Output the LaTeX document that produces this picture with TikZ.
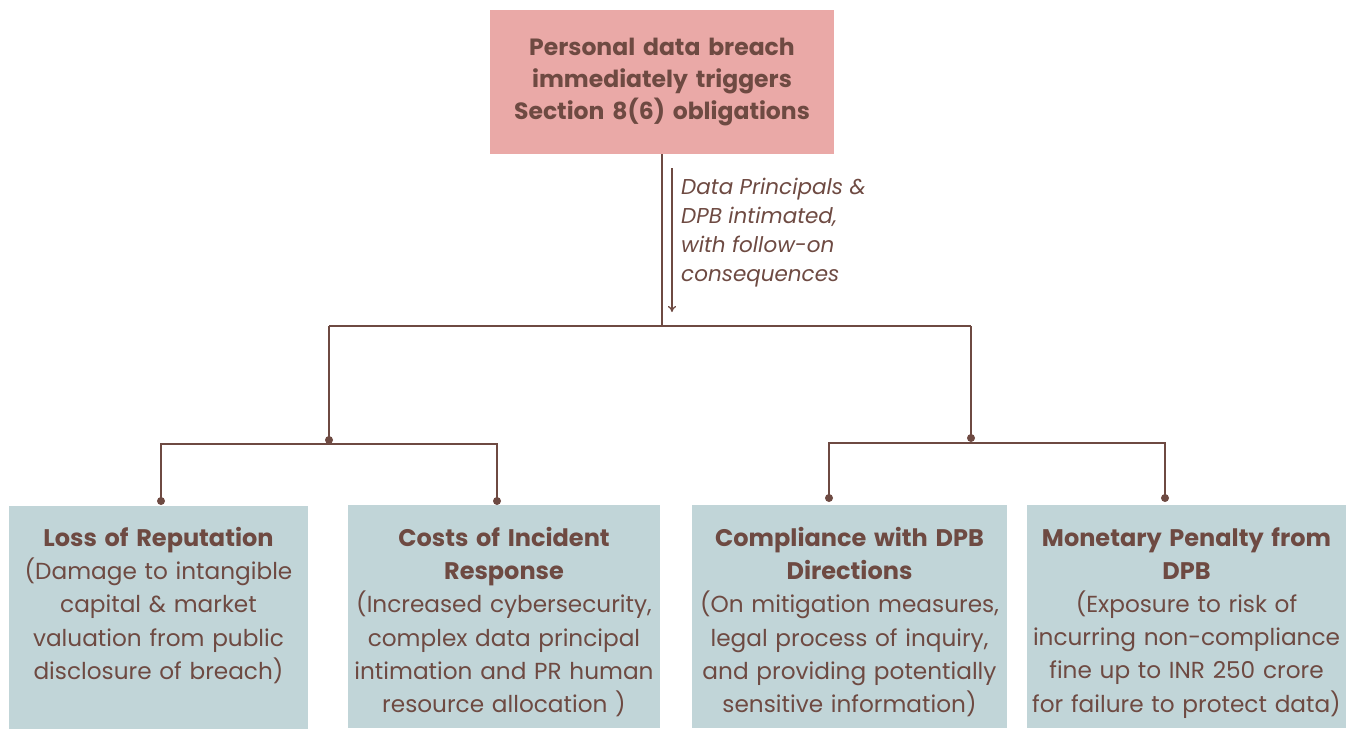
\documentclass[tikz,border=0pt]{standalone}
\usepackage{fontspec}
\setmainfont{Poppins}
\usetikzlibrary{arrows.meta, positioning}

\definecolor{breachpink}{HTML}{EAA9A7}
\definecolor{effectblue}{HTML}{C1D5D8}
\definecolor{inkbrown}{HTML}{6E4A42}

\newcommand{\headline}[1]{{\bfseries\fontsize{24}{33.2}\selectfont #1}}

\begin{document}
\begin{tikzpicture}[x=1pt, y=-1pt,
    trigger/.style={fill=breachpink, minimum width=344pt, minimum height=144pt, text width=336pt, align=center, text=inkbrown, font=\bfseries\fontsize{23.5}{32}\selectfont},
    effect/.style={fill=effectblue, minimum height=223pt, inner sep=0pt},
    effecttext/.style={text width=316pt, align=center, anchor=north, inner sep=0pt, text=inkbrown, font=\fontsize{23.2}{33.2}\selectfont},
    note/.style={align=left, anchor=west, inner sep=0pt, text=inkbrown, font=\itshape\fontsize{21.5}{29}\selectfont},
    link/.style={draw=inkbrown, line width=2pt},
    joint/.style={circle, fill=inkbrown, inner sep=0pt, minimum size=8pt}]
        \useasboundingbox (0,0) rectangle (1354,729);

        \node[trigger] (breach) at (662,82) {Personal data breach\\ immediately triggers\\ Section 8(6) obligations};

        \node[effect, minimum width=299pt] (loss)       at (158.5,617.5) {};
        \node[effect, minimum width=312pt] (costs)      at (504,616.5) {};
        \node[effect, minimum width=315pt] (compliance) at (849.5,616.5) {};
        \node[effect, minimum width=319pt] (penalty)    at (1186.5,616.5) {};

        \node[effecttext] (losstxt) at (158.5,527) {\headline{Loss of Reputation}\\ (Damage to intangible\\ capital \& market\\ valuation from public\\ disclosure of breach)};
        \node[effecttext] (coststxt) at (504,527) {\headline{Costs of Incident\\ Response}\\ (Increased cybersecurity,\\ complex data principal\\ intimation and PR human\\ resource allocation )};
        \node[effecttext] (compliancetxt) at (849.5,527) {\headline{Compliance with DPB\\ Directions}\\ (On mitigation measures,\\ legal process of inquiry,\\ and providing potentially\\ sensitive information)};
        \node[effecttext] (penaltytxt) at (1186.5,527) {\headline{Monetary Penalty from\\ DPB}\\ (Exposure to risk of\\ incurring non-compliance\\ fine up to INR 250 crore\\ for failure to protect data)};

        % tree joints
        \coordinate (hub)    at (662,326);
        \coordinate (hubL)   at (329,326);
        \coordinate (hubR)   at (971,326);
        \node[joint] (forkL) at (329,440) {};
        \node[joint] (forkR) at (971,438) {};
        \coordinate (barL1)  at (161,444);
        \coordinate (barL2)  at (497,444);
        \coordinate (barR1)  at (829,443);
        \coordinate (barR2)  at (1165,443);
        \node[joint] (tipLoss)       at (161,501) {};
        \node[joint] (tipCosts)      at (497,501) {};
        \node[joint] (tipCompliance) at (829,498) {};
        \node[joint] (tipPenalty)    at (1165,498) {};

        \draw[link] (breach.south) -- (hub);
        \draw[link] (hubL) -- (hubR);
        \draw[link] (hubL) -- (forkL.center);
        \draw[link] (hubR) -- (forkR.center);
        \draw[link] (tipLoss.center) -- (barL1) -- (barL2) -- (tipCosts.center);
        \draw[link] (tipCompliance.center) -- (barR1) -- (barR2) -- (tipPenalty.center);

        % intimation arrow and its note
        \coordinate (notifyA) at (672,168);
        \coordinate (notifyB) at (672,312);
        \draw[draw=inkbrown, line width=1.3pt, -{To[length=6pt, width=8pt]}] (notifyA) -- (notifyB);
        \node[note] (notifytxt) at (681,233) {Data Principals \&\\ DPB intimated,\\ with follow-on\\ consequences};
\end{tikzpicture}
\end{document}
